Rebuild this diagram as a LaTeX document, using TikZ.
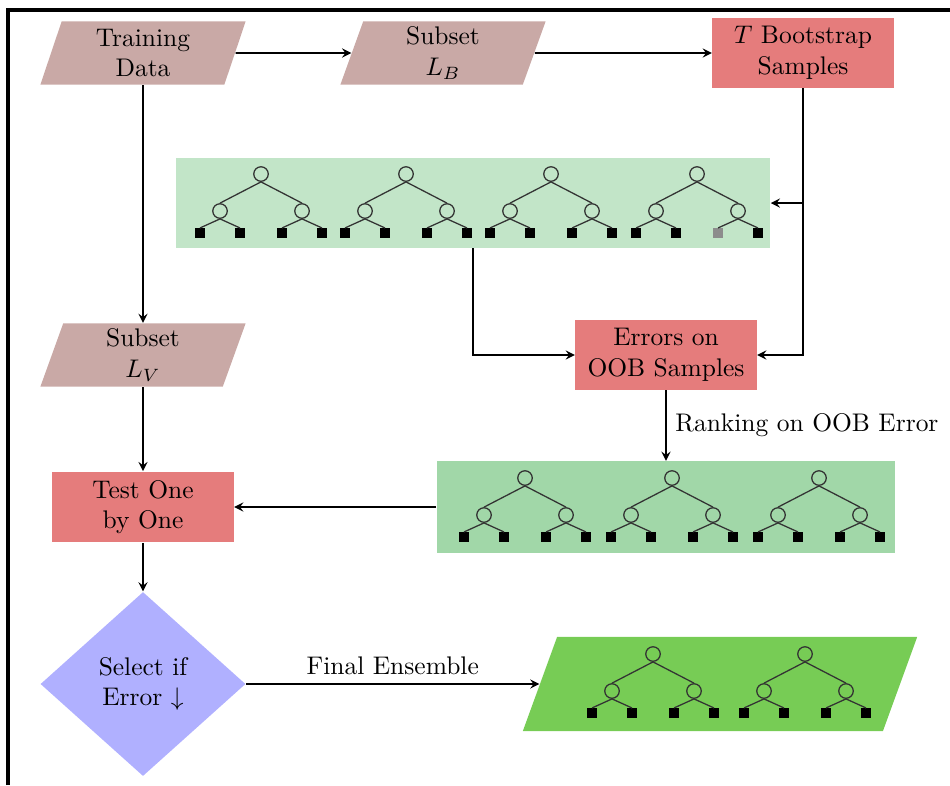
\documentclass[tikz,border=0pt]{standalone}
\usepackage{amsmath,amssymb}
\usepackage{tikz}
\usetikzlibrary{shapes.geometric}

\definecolor{datacol}{RGB}{201,169,166}
\definecolor{proccol}{RGB}{229,124,124}
\definecolor{forestA}{RGB}{194,229,200}
\definecolor{forestB}{RGB}{161,215,168}
\definecolor{forestC}{RGB}{119,204,85}
\definecolor{decicol}{RGB}{176,176,255}

\tikzset{
  dataio/.style={trapezium, trapezium left angle=70, trapezium right angle=110,
    trapezium stretches body=true, fill=datacol, align=center,
    minimum width=2.83cm, minimum height=0.87cm, inner sep=2pt},
  process/.style={rectangle, fill=proccol, align=center,
    minimum width=2.5cm, minimum height=0.91cm},
  decision/.style={diamond, fill=decicol, align=center,
    minimum width=2.83cm, minimum height=2.54cm, inner sep=0pt},
  treebox/.style={rectangle, inner sep=0pt},
  tnode/.style={circle, draw=black!80, line width=0.5pt, minimum size=0.2cm, inner sep=0pt},
  tleaf/.style={rectangle, fill=black, minimum size=0.125cm, inner sep=0pt},
  tleafc/.style={tleaf},
  tedge/.style={line width=0.5pt, black!80},
  flow/.style={->, >=stealth, semithick},
  minitree/.pic={
    \node[tnode] (-r) at (0,0) {};
    \node[tnode] (-a) at (-41,37) {};
    \node[tnode] (-b) at (41,37) {};
    \node[tleaf] (-a1) at (-61,59) {};
    \node[tleaf] (-a2) at (-21,59) {};
    \node[tleafc] (-b1) at (21,59) {};
    \node[tleaf] (-b2) at (61,59) {};
    \draw[tedge] (-r.south) -- (-a.north);
    \draw[tedge] (-r.south) -- (-b.north);
    \draw[tedge] (-a.south) -- (-a1.north);
    \draw[tedge] (-a.south) -- (-a2.north);
    \draw[tedge] (-b.south) -- (-b1.north);
    \draw[tedge] (-b.south) -- (-b2.north);
  }
}

\begin{document}
\begin{tikzpicture}[x=0.0138cm, y=-0.0138cm]
    \useasboundingbox (0,0) rectangle (950,785);
    % Frame of the page
    \draw[very thick] (8,785) -- (8,10) -- (950,10);

    % Inputs and bootstrap step
    \node[dataio] (train) at (143,53) {Training\\Data};
    \node[dataio] (subB) at (443,53) {Subset\\$L_B$};
    \node[process] (boot) at (803,53) {$T$ Bootstrap\\Samples};

    % Forest grown on the bootstrap samples
    \node[treebox, fill=forestA, minimum width=8.2cm, minimum height=1.24cm] (all) at (473,203) {};
    \foreach \x/\n in {261/1,406/2,551/3}
        \pic (a\n) at (\x,174) {minitree};
    \pic[tleafc/.style={tleaf, fill=black!45}] (a4) at (697,174) {minitree};

    % Evaluation and validation subset
    \node[process] (err) at (666,355) {Errors on\\OOB Samples};
    \node[dataio] (subV) at (143,355) {Subset\\$L_V$};
    \node[process] (test) at (143,507) {Test One\\by One};

    % Ranked trees
    \node[treebox, fill=forestB, minimum width=6.33cm, minimum height=1.26cm] (rank) at (666,507) {};
    \foreach \x/\n in {525/1,672/2,819/3}
        \pic (b\n) at (\x,478) {minitree};

    % Selection and final ensemble
    \node[decision] (sel) at (143,684) {Select if\\Error $\downarrow$};
    \node[dataio, fill=forestC, minimum width=5.44cm, minimum height=0pt,
          inner ysep=0.65cm] (final) at (720,684) {};
    \foreach \x/\n in {653/1,805/2}
        \pic (c\n) at (\x,654) {minitree};

    % Connectors
    \draw[flow] (train.east) -- (subB.west);
    \draw[flow] (subB.east) -- (boot.west);
    \draw[flow] (boot.south) |- (err.east);
    \coordinate (split) at (boot.south |- all.east);
    \draw[flow] (split) -- (all.east);
    \draw[flow] (all.south) |- (err.west);
    \draw[flow] (train.south) -- (subV.north);
    \draw[flow] (err.south) -- node[right] {Ranking on OOB Error} (rank.north);
    \draw[flow] (rank.west) -- (test.east);
    \draw[flow] (subV.south) -- (test.north);
    \draw[flow] (test.south) -- (sel.north);
    \draw[flow] (sel.east) -- node[above] {Final Ensemble} (final.west);
\end{tikzpicture}
\end{document}
